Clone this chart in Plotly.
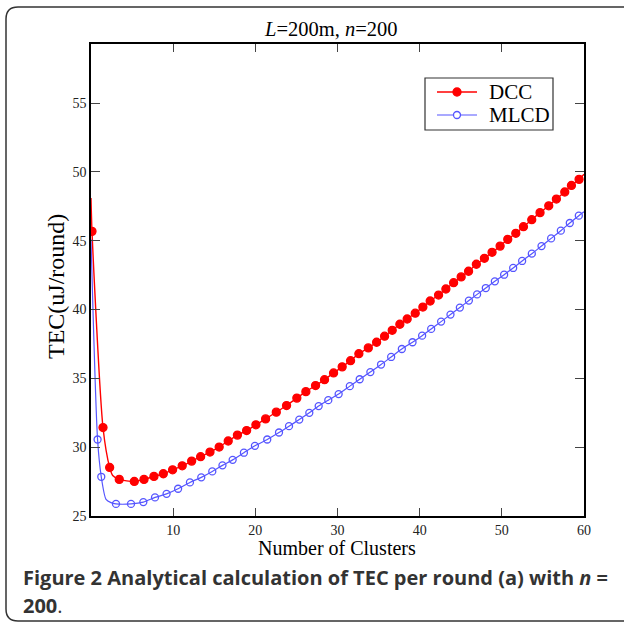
import plotly.graph_objects as go

# ---------------- data ----------------
dcc_x = [0.12, 1.46, 2.27, 3.44, 5.27, 6.45, 7.66, 8.8, 9.93, 11.1, 12.25, 13.34, 14.48,
         15.6, 16.7, 17.82, 18.94, 20.07, 21.25, 22.55, 23.8, 25.05, 26.15, 27.33, 28.42,
         29.52, 30.57, 31.59, 32.6, 33.75, 34.76, 35.73, 36.66, 37.59, 38.48, 39.46, 40.39,
         41.28, 42.3, 43.19, 44.13, 45.05, 45.95, 46.9, 47.88, 48.81, 49.79, 50.72, 51.7,
         52.63, 53.64, 54.65, 55.71, 56.64, 57.66, 58.47, 59.4]
dcc_y = [45.68, 31.42, 28.52, 27.65, 27.5, 27.65, 27.87, 28.06, 28.35, 28.64, 28.98, 29.3, 29.64,
         30.0, 30.44, 30.87, 31.2, 31.62, 32.05, 32.54, 33.02, 33.56, 34.03, 34.47, 34.9,
         35.39, 35.83, 36.28, 36.79, 37.21, 37.62, 38.06, 38.49, 38.93, 39.31, 39.73, 40.18,
         40.62, 41.05, 41.49, 41.95, 42.37, 42.78, 43.29, 43.72, 44.16, 44.61, 45.1, 45.54,
         46.02, 46.53, 47.04, 47.54, 48.03, 48.54, 49.02, 49.46]
# extra points of the drawn DCC curve (no marker there)
dcc_curve_extra_x = [0.0, 2.64, 60.0]
dcc_curve_extra_y = [48.1, 27.93, 49.83]

mlcd_x = [0.8, 1.25, 3.04, 4.87, 6.37, 7.79, 9.2, 10.6, 12.04, 13.42, 14.76, 16.0, 17.24,
          18.61, 19.95, 21.45, 22.88, 24.1, 25.35, 26.57, 27.71, 28.88, 30.14, 31.5, 32.7,
          34.0, 35.3, 36.53, 37.83, 39.13, 40.3, 41.4, 42.61, 43.75, 44.89, 45.99, 46.99,
          48.05, 49.15, 50.28, 51.38, 52.47, 53.65, 54.83, 56.0, 57.18, 58.27, 59.37]
mlcd_y = [30.55, 27.84, 25.87, 25.87, 26.0, 26.34, 26.6, 26.97, 27.43, 27.8, 28.23, 28.67, 29.07,
          29.59, 30.09, 30.55, 31.06, 31.52, 32.0, 32.49, 32.98, 33.41, 33.85, 34.43, 34.93,
          35.45, 36.0, 36.55, 37.13, 37.62, 38.1, 38.59, 39.12, 39.63, 40.14, 40.65, 41.1,
          41.56, 42.05, 42.53, 43.02, 43.53, 44.06, 44.61, 45.17, 45.73, 46.29, 46.82]
mlcd_curve_extra_x = [0.0, 1.83, 2.43, 60.0]
mlcd_curve_extra_y = [45.1, 26.2, 25.96, 47.1]

series_names = ["DCC", "MLCD"]
x_ticks = [10, 20, 30, 40, 50, 60]
y_ticks = [25, 30, 35, 40, 45, 50, 55]

title_text = "<i>L</i>=200m, <i>n</i>=200"
x_title = "Number of Clusters"
y_title = "TEC(uJ/round)"
caption_1 = "<b>Figure 2 Analytical calculation of TEC per round (a) with <i>n</i> =</b>"
caption_2 = "<b>200</b>."

RED = "#ff0000"
BLUE = "#5555ff"
SERIF = "Liberation Serif, Times New Roman, serif"


def merged(xs, ys, ex, ey):
    pts = sorted(list(zip(xs, ys)) + list(zip(ex, ey)))
    return [p[0] for p in pts], [p[1] for p in pts]


# ---------------- layout geometry ----------------
W, H = 624, 625
L, R, T, B = 91, 40, 44, 109
pw, ph = W - L - R, H - T - B


def px_x(p):
    return (p - L) / pw


def px_y(p):
    return (H - B - p) / ph


fig = go.Figure()

styles = [
    (dcc_x, dcc_y, dcc_curve_extra_x, dcc_curve_extra_y, RED, "circle", 8, 1.4, True),
    (mlcd_x, mlcd_y, mlcd_curve_extra_x, mlcd_curve_extra_y, BLUE, "circle-open", 7, 1.2, False),
]
for name, (xs, ys, ex, ey, color, sym, msize, lw, filled) in zip(series_names, styles):
    cx, cy = merged(xs, ys, ex, ey)
    fig.add_trace(go.Scatter(x=cx, y=cy, mode="lines", showlegend=False, name=name,
                             line=dict(color=color, width=lw, shape="spline", smoothing=0.7),
                             hoverinfo="skip"))
    fig.add_trace(go.Scatter(x=xs, y=ys, mode="markers", showlegend=False, name=name,
                             marker=dict(color=color, symbol=sym, size=msize,
                                         line=dict(color=color, width=1.3))))

# ---------------- legend box (drawn to match the reference compactly) ----------------
lg_x0, lg_x1, lg_y0, lg_y1 = 425, 553, 78, 130
fig.add_shape(type="rect", xref="paper", yref="paper",
              x0=px_x(lg_x0), x1=px_x(lg_x1), y0=px_y(lg_y1), y1=px_y(lg_y0),
              line=dict(color="#333", width=1.2), fillcolor="white", layer="above")
for i, (name, st) in enumerate(zip(series_names, styles)):
    color, msize, lw, filled = st[4], st[6], st[7], st[8]
    yy = 92 + 23 * i
    fig.add_shape(type="line", xref="paper", yref="paper",
                  x0=px_x(437), x1=px_x(477), y0=px_y(yy), y1=px_y(yy),
                  line=dict(color=color, width=lw), layer="above")
    r = msize / 2
    fig.add_shape(type="circle", xref="paper", yref="paper",
                  x0=px_x(457 - r), x1=px_x(457 + r), y0=px_y(yy + r), y1=px_y(yy - r),
                  line=dict(color=color, width=1.3),
                  fillcolor=color if filled else "white", layer="above")
    fig.add_annotation(text=name, x=px_x(487), y=px_y(yy), xref="paper", yref="paper",
                       showarrow=False, font=dict(family=SERIF, size=21, color="black"),
                       xanchor="left", yanchor="middle")

axis_common = dict(showgrid=False, zeroline=False, showline=True, linecolor="black",
                   linewidth=1.5, mirror="ticks", ticks="inside", tickcolor="#444",
                   tickwidth=1.2, tickfont=dict(family=SERIF, size=14, color="#222"))

fig.update_xaxes(range=[0, 60], tickmode="array", tickvals=x_ticks, ticklen=8,
                 ticklabelstandoff=0, **axis_common)
fig.update_yaxes(range=[24.99, 59.3], tickmode="array", tickvals=y_ticks, ticklen=9,
                 **axis_common)

# rounded frame around the whole figure
fx0, fx1, fy0, fy1, rad = 6, 660, 7, 621, 12
rx, ry = rad / pw, rad / ph
X0, X1 = px_x(fx0), px_x(fx1)
Y0, Y1 = px_y(fy1), px_y(fy0)
path = (f"M {X0+rx},{Y1} L {X1-rx},{Y1} Q {X1},{Y1} {X1},{Y1-ry} "
        f"L {X1},{Y0+ry} Q {X1},{Y0} {X1-rx},{Y0} L {X0+rx},{Y0} "
        f"Q {X0},{Y0} {X0},{Y0+ry} L {X0},{Y1-ry} Q {X0},{Y1} {X0+rx},{Y1} Z")
fig.add_shape(type="path", path=path, xref="paper", yref="paper",
              line=dict(color="#333", width=1.5), layer="below")

fig.add_annotation(text=title_text, x=px_x(330), y=px_y(29), xref="paper", yref="paper",
                   showarrow=False, font=dict(family=SERIF, size=20.5, color="black"),
                   xanchor="center", yanchor="middle")
fig.add_annotation(text=x_title, x=px_x(337), y=px_y(548), xref="paper", yref="paper",
                   showarrow=False, font=dict(family=SERIF, size=20, color="black"),
                   xanchor="center", yanchor="middle")
fig.add_annotation(text=y_title, x=px_x(56), y=px_y(287), xref="paper", yref="paper",
                   showarrow=False, textangle=-90,
                   font=dict(family=SERIF, size=24, color="black"),
                   xanchor="center", yanchor="middle")
fig.add_annotation(text=caption_1, x=px_x(21), y=px_y(577), xref="paper", yref="paper",
                   showarrow=False, font=dict(family="Open Sans", size=20, color="#333"),
                   xanchor="left", yanchor="middle")
fig.add_annotation(text=caption_2, x=px_x(21), y=px_y(605), xref="paper", yref="paper",
                   showarrow=False, font=dict(family="Open Sans", size=20, color="#333"),
                   xanchor="left", yanchor="middle")

fig.update_layout(
    width=W, height=H, margin=dict(l=L, r=R, t=T, b=B, autoexpand=False),
    paper_bgcolor="white", plot_bgcolor="white",
    showlegend=False,
)

fig.write_html("out.html", config={"displayModeBar": False},
               post_script="document.body.style.margin='0px';document.body.style.overflow='hidden';")
